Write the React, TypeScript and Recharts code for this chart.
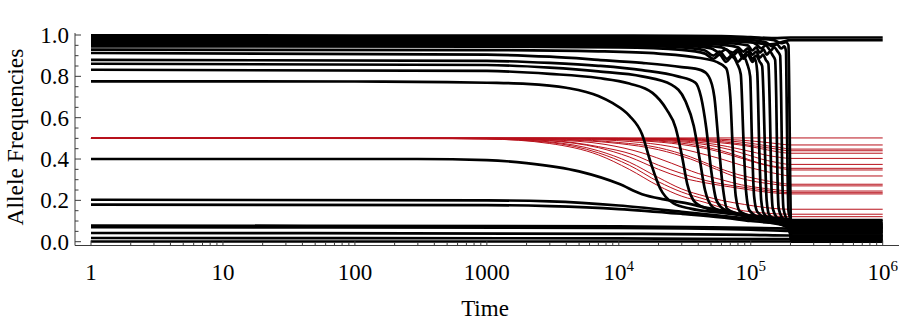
import React from 'react';
import { LineChart, Line, XAxis, YAxis, Label } from 'recharts';

type P = [number, number];

// ---- axis ticks ----
const xMajorTicks = [1, 10, 100, 1000, 1e4, 1e5, 1e6];
const xTickLabels = ['1', '10', '100', '1000', '10|4', '10|5', '10|6'];
const xMinorMult = [2, 3, 4, 5, 6, 7, 8, 9];
const yMajorTicks = [0, 0.2, 0.4, 0.6, 0.8, 1.0];
const yTickLabels = ['0.0', '0.2', '0.4', '0.6', '0.8', '1.0'];
const yMinorTicks = [0.05, 0.1, 0.15, 0.25, 0.3, 0.35, 0.45, 0.5, 0.55, 0.65, 0.7, 0.75, 0.85, 0.9, 0.95];

// ---- red series (start at 0.5) ----
const red01: P[] = [[1, .502], [1e3, .502], [1e4, .502], [1e5, .502], [2e5, .502], [1e6, .502]];
const red02: P[] = [[1, .5], [1e4, .5], [4e4, .498], [8e4, .492], [1.2e5, .483], [1.6e5, .474], [2e5, .468], [1e6, .468]];
const red03: P[] = [[1, .5], [1e4, .5], [3e4, .497], [6e4, .49], [9e4, .48], [1.3e5, .465], [1.7e5, .455], [2e5, .448], [1e6, .448]];
const red04: P[] = [[1, .5], [8e3, .5], [2.5e4, .496], [5e4, .488], [8e4, .475], [1.1e5, .462], [1.5e5, .45], [2e5, .44], [1e6, .44]];
const red05: P[] = [[1, .5], [5e3, .5], [2e4, .496], [4e4, .488], [6e4, .478], [9e4, .465], [1.2e5, .45], [1.5e5, .438], [2e5, .428], [1e6, .428]];
const red06: P[] = [[1, .5], [5e3, .5], [1.5e4, .496], [3e4, .488], [5.5e4, .47], [8e4, .45], [1.1e5, .43], [1.4e5, .415], [1.7e5, .407], [2e5, .403], [1e6, .403]];
const red07: P[] = [[1, .5], [3e3, .5], [1e4, .496], [2.5e4, .487], [4.5e4, .47], [7e4, .445], [9.5e4, .42], [1.2e5, .4], [1.5e5, .386], [2e5, .374], [1e6, .374]];
const red08: P[] = [[1, .5], [3e3, .5], [1e4, .495], [2e4, .487], [4e4, .465], [6e4, .44], [8.5e4, .41], [1.1e5, .385], [1.4e5, .368], [1.8e5, .358], [2e5, .355], [1e6, .355]];
const red09: P[] = [[1, .5], [2e3, .5], [6e3, .497], [1.5e4, .488], [3e4, .47], [5e4, .445], [7e4, .42], [1e5, .39], [1.3e5, .37], [1.7e5, .355], [2e5, .347], [1e6, .347]];
const red10: P[] = [[1, .5], [2e3, .5], [5e3, .496], [1.2e4, .485], [2.5e4, .46], [4e4, .43], [6e4, .4], [8.5e4, .37], [1.2e5, .345], [1.6e5, .328], [2e5, .318], [1e6, .318]];
const red11: P[] = [[1, .5], [1e3, .5], [4e3, .495], [1e4, .48], [2e4, .455], [3.5e4, .41], [5.5e4, .36], [8e4, .325], [1.2e5, .3], [1.6e5, .285], [2e5, .278], [1e6, .278]];
const red12: P[] = [[1, .5], [1e3, .5], [3e3, .495], [1e4, .475], [2e4, .445], [3.5e4, .4], [5.5e4, .35], [8e4, .31], [1.1e5, .29], [1.5e5, .278], [2e5, .27], [1e6, .27]];
const red13: P[] = [[1, .5], [1e3, .5], [3e3, .493], [8e3, .47], [1.5e4, .43], [2.5e4, .38], [4e4, .33], [6e4, .3], [8.5e4, .275], [1.2e5, .26], [1.6e5, .25], [2e5, .245], [1e6, .245]];
const red14: P[] = [[1, .5], [1e3, .499], [3e3, .49], [7e3, .46], [1.3e4, .42], [2e4, .37], [3e4, .33], [5e4, .29], [7.5e4, .27], [1.1e5, .255], [1.5e5, .243], [2e5, .237], [1e6, .237]];
const red15: P[] = [[1, .5], [1e3, .499], [3e3, .488], [7e3, .455], [1.2e4, .41], [2e4, .35], [3e4, .31], [5e4, .28], [7e4, .265], [1e5, .25], [1.4e5, .238], [2e5, .231], [1e6, .231]];
const red16: P[] = [[1, .5], [1e3, .498], [3e3, .483], [7e3, .44], [1.2e4, .385], [2e4, .31], [3e4, .255], [4.5e4, .22], [6e4, .2], [9e4, .18], [1.3e5, .165], [2e5, .157], [1e6, .157]];
const red17: P[] = [[1, .5], [300, .5], [1e3, .497], [3e3, .48], [7e3, .43], [1.2e4, .37], [2e4, .29], [3e4, .24], [4.5e4, .205], [6e4, .18], [8e4, .155], [1.2e5, .14], [2e5, .133], [1e6, .133]];
const red18: P[] = [[1, .5], [300, .5], [1e3, .497], [3e3, .475], [7e3, .42], [1.2e4, .35], [2e4, .27], [3e4, .22], [4.5e4, .19], [6e4, .165], [8e4, .14], [1.2e5, .128], [2e5, .121], [1e6, .121]];

// ---- black series ----
const blk0776: P[] = [[1, .776], [100, .775], [500, .772], [1e3, .769], [2e3, .764], [4e3, .745], [7e3, .705], [9e3, .67], [1.2e4, .61], [1.5e4, .52], [1.75e4, .38], [2.05e4, .26], [2.6e4, .185], [3.5e4, .16], [6e4, .14], [1.2e5, .12], [1.95e5, .108], [2.02e5, .105], [1e6, .105]];
const blk0832: P[] = [[1, .832], [1e3, .826], [3e3, .812], [7e3, .792], [1.2e4, .765], [1.8e4, .72], [2.3e4, .64], [2.7e4, .55], [3e4, .42], [3.3e4, .28], [3.8e4, .19], [5e4, .155], [1e5, .125], [1.95e5, .1], [2.02e5, .097], [1e6, .097]];
const blk0861: P[] = [[1, .861], [1e3, .855], [3e3, .842], [7e3, .824], [1.5e4, .8], [2.5e4, .76], [3.2e4, .68], [3.7e4, .56], [4.1e4, .4], [4.5e4, .25], [5.2e4, .165], [7e4, .14], [1.3e5, .11], [1.95e5, .092], [2.02e5, .088], [1e6, .088]];
const blk0880: P[] = [[1, .88], [1e3, .875], [3e3, .865], [7e3, .851], [1.5e4, .83], [2.8e4, .8], [3.8e4, .77], [4.2e4, .7], [4.6e4, .55], [5e4, .35], [5.5e4, .2], [6.5e4, .15], [1e5, .12], [1.95e5, .087], [2.02e5, .08], [1e6, .08]];
const blk0913: P[] = [[1, .913], [1e3, .905], [3e3, .895], [7e3, .88], [1.5e4, .865], [3e4, .845], [4.2e4, .83], [4.8e4, .8], [5.3e4, .7], [5.7e4, .48], [6.1e4, .28], [6.6e4, .16], [8e4, .135], [1.4e5, .1], [1.95e5, .082], [2.02e5, .072], [1e6, .072]];
const blk0929: P[] = [[1, .929], [1e3, .927], [7e3, .921], [2e4, .91], [4e4, .89], [5.5e4, .87], [6.5e4, .84], [7e4, .7], [7.3e4, .45], [7.7e4, .22], [8.3e4, .145], [1.2e5, .11], [1.95e5, .077], [2.02e5, .068], [1e6, .068]];
const blk0945: P[] = [[1, .945], [1e3, .944], [1e4, .94], [3e4, .928], [4.5e4, .91], [5.2e4, .885], [5.8e4, .905], [6.5e4, .87], [7.2e4, .895], [7.9e4, .86], [8.4e4, .81], [8.8e4, .5], [9.2e4, .25], [9.8e4, .15], [1.3e5, .1], [1.95e5, .072], [2.02e5, .055], [1e6, .055]];
const blk0952: P[] = [[1, .952], [1e4, .948], [3e4, .94], [4.5e4, .925], [5.2e4, .9], [5.8e4, .92], [6.6e4, .885], [7.3e4, .905], [8e4, .87], [8.8e4, .895], [9.4e4, .86], [9.9e4, .8], [1.02e5, .5], [1.06e5, .22], [1.12e5, .145], [1.5e5, .095], [1.95e5, .068], [2.02e5, .045], [1e6, .045]];
const blk0958: P[] = [[1, .958], [1e4, .955], [3e4, .948], [5e4, .935], [5.8e4, .915], [6.5e4, .93], [7.3e4, .9], [8e4, .92], [8.8e4, .885], [9.5e4, .905], [1.03e5, .87], [1.08e5, .885], [1.12e5, .82], [1.16e5, .45], [1.2e5, .2], [1.26e5, .135], [1.6e5, .09], [1.95e5, .063], [2.02e5, .04], [1e6, .04]];
const blk0964: P[] = [[1, .964], [1e4, .961], [3e4, .955], [6e4, .94], [7.3e4, .915], [8e4, .93], [8.8e4, .9], [9.5e4, .92], [1.03e5, .885], [1.1e5, .9], [1.17e5, .87], [1.22e5, .85], [1.25e5, .7], [1.28e5, .45], [1.32e5, .2], [1.38e5, .13], [1.95e5, .06], [2.02e5, .03], [1e6, .03]];
const blk0970: P[] = [[1, .97], [1e4, .967], [3e4, .962], [6e4, .953], [8e4, .94], [8.8e4, .92], [9.5e4, .935], [1.03e5, .905], [1.1e5, .92], [1.17e5, .89], [1.24e5, .905], [1.3e5, .88], [1.36e5, .86], [1.4e5, .6], [1.43e5, .3], [1.47e5, .16], [1.6e5, .11], [1.95e5, .065], [2.02e5, .025], [1e6, .025]];
const blk0976: P[] = [[1, .976], [1e4, .974], [3e4, .97], [6e4, .963], [9.5e4, .95], [1.03e5, .925], [1.1e5, .94], [1.17e5, .915], [1.25e5, .93], [1.32e5, .905], [1.4e5, .92], [1.47e5, .9], [1.53e5, .88], [1.56e5, .7], [1.59e5, .35], [1.63e5, .16], [1.75e5, .11], [1.95e5, .075], [2.02e5, .018], [1e6, .018]];
const blk0982: P[] = [[1, .982], [1e4, .98], [3e4, .977], [6e4, .972], [1e5, .965], [1.1e5, .955], [1.2e5, .935], [1.3e5, .95], [1.42e5, .925], [1.5e5, .94], [1.6e5, .92], [1.67e5, .9], [1.7e5, .7], [1.73e5, .35], [1.77e5, .16], [1.87e5, .11], [1.96e5, .09], [2.02e5, .008], [1e6, .008]];
const blk0988: P[] = [[1, .988], [1e4, .986], [3e4, .984], [6e4, .98], [1e5, .975], [1.3e5, .965], [1.45e5, .945], [1.58e5, .955], [1.7e5, .935], [1.8e5, .945], [1.85e5, .92], [1.87e5, .7], [1.9e5, .35], [1.93e5, .15], [1.98e5, .11], [2.02e5, .004], [1e6, .004]];
const blk0994: P[] = [[1, .994], [1e4, .993], [6e4, .99], [1e5, .985], [1.5e5, .975], [1.7e5, .96], [1.85e5, .965], [1.93e5, .95], [1.96e5, .7], [1.99e5, .3], [2.01e5, .1], [2.03e5, .0], [1e6, .0]];
const blkTopA: P[] = [[1, .998], [1e4, .997], [6e4, .995], [1e5, .99], [1.5e5, .985], [2e5, .988], [1e6, .988]];
const blkTopB: P[] = [[1, .979], [1e4, .978], [6e4, .972], [1e5, .965], [1.4e5, .955], [1.7e5, .965], [2e5, .975], [1e6, .975]];
const blk0400: P[] = [[1, .4], [300, .4], [1e3, .395], [2e3, .38], [5e3, .34], [1e4, .28], [1.5e4, .23], [2.2e4, .205], [3e4, .19], [5e4, .16], [1e5, .125], [2e5, .1], [2.02e5, .085], [1e6, .085]];
const blk0203: P[] = [[1, .203], [1e3, .2], [3e3, .195], [1e4, .175], [3e4, .145], [6e4, .125], [1e5, .11], [2e5, .09], [2.02e5, .075], [1e6, .075]];
const blk0179: P[] = [[1, .179], [1e3, .177], [3e3, .172], [1e4, .158], [3e4, .135], [6e4, .118], [1e5, .1], [2e5, .08], [2.02e5, .065], [1e6, .065]];
const blk0078: P[] = [[1, .078], [1e4, .074], [5e4, .07], [2e5, .063], [1e6, .06]];
const blk0070: P[] = [[1, .07], [1e4, .067], [1e5, .058], [2e5, .052], [1e6, .05]];
const blk0042: P[] = [[1, .042], [1e4, .038], [1e5, .033], [2e5, .03], [1e6, .03]];
const blk0018: P[] = [[1, .018], [1e4, .016], [2e5, .012], [1e6, .012]];
const blk0001: P[] = [[1, .001], [1e4, .001], [2e5, .001], [1e6, .001]];

const redSeries = [red01, red02, red03, red04, red05, red06, red07, red08, red09, red10, red11, red12, red13, red14, red15, red16, red17, red18];
const blackSeries = [blk0776, blk0832, blk0861, blk0880, blk0913, blk0929, blk0945, blk0952, blk0958, blk0964, blk0970, blk0976, blk0982, blk0988, blk0994, blkTopA, blkTopB, blk0400, blk0203, blk0179, blk0078, blk0070, blk0042, blk0018, blk0001];

const toPts = (a: P[]) => a.map(([t, v]) => ({ t, v }));

const xMinorTicks: number[] = [];
xMajorTicks.slice(0, 6).forEach((d) => xMinorMult.forEach((m) => xMinorTicks.push(d * m)));
const xAllTicks = [...xMajorTicks, ...xMinorTicks];
const yAllTicks = [...yMajorTicks, ...yMinorTicks];

const FONT = '"Liberation Serif", "Times New Roman", serif';
const FRAME = '#3a3a3a';
const FS = 23;
const X_DOMAIN: [number, number] = [0.7564, 1.329e6];
const Y_DOMAIN: [number, number] = [-0.0184, 1.0097];

const isMajorX = (v: number) => xMajorTicks.some((m) => Math.abs(m - v) / m < 1e-6);
const isMajorY = (v: number) => yMajorTicks.some((m) => Math.abs(m - v) < 1e-6);

const XTickBottom = (props: any) => {
  const { x, y, payload } = props;
  const v = payload.value;
  const major = isMajorX(v);
  const len = major ? 5 : 3;
  let label: React.ReactNode = null;
  if (major) {
    const idx = xMajorTicks.findIndex((m) => Math.abs(m - v) / m < 1e-6);
    const s = xTickLabels[idx];
    if (s.includes('|')) {
      const [b, e] = s.split('|');
      label = (
        <text x={x} y={y + 34} textAnchor="middle" fontFamily={FONT} fontSize={FS} fill="#000">
          <tspan>{b}</tspan>
          <tspan dy={-9} fontSize={15}>{e}</tspan>
        </text>
      );
    } else {
      label = (
        <text x={x} y={y + 34} textAnchor="middle" fontFamily={FONT} fontSize={FS} fill="#000">{s}</text>
      );
    }
  }
  return (
    <g>
      <line x1={x} x2={x} y1={y} y2={y - len} stroke={FRAME} strokeWidth={1} />
      {label}
    </g>
  );
};

const XTickTop = (props: any) => {
  const { x, y, payload } = props;
  const len = isMajorX(payload.value) ? 5 : 3;
  return <line x1={x} x2={x} y1={y} y2={y + len} stroke={FRAME} strokeWidth={1} />;
};

const YTickLeft = (props: any) => {
  const { x, y, payload } = props;
  const v = payload.value;
  const major = isMajorY(v);
  const len = major ? 6 : 3.5;
  const idx = yMajorTicks.findIndex((m) => Math.abs(m - v) < 1e-6);
  return (
    <g>
      <line x1={x} x2={x + len} y1={y} y2={y} stroke={FRAME} strokeWidth={1} />
      {major && (
        <text x={x - 6} y={y + 8} textAnchor="end" fontFamily={FONT} fontSize={FS} fill="#000">{yTickLabels[idx]}</text>
      )}
    </g>
  );
};

const YTickRight = (props: any) => {
  const { x, y, payload } = props;
  const len = isMajorY(payload.value) ? 6 : 3.5;
  return <line x1={x} x2={x - len} y1={y} y2={y} stroke={FRAME} strokeWidth={1} />;
};

export default function App() {
  return (
    <div style={{ position: 'absolute', left: 0, top: 0, width: 900, height: 322, background: '#fff' }}>
      <LineChart width={900} height={322} margin={{ top: 33, right: 1, bottom: 0, left: 0 }}>
        <XAxis
          xAxisId="b"
          dataKey="t"
          type="number"
          scale="log"
          domain={X_DOMAIN}
          allowDataOverflow
          ticks={xAllTicks}
          interval={0}
          tickSize={0}
          tickMargin={0}
          tick={<XTickBottom />}
          tickLine={false}
          axisLine={{ stroke: FRAME, strokeWidth: 1 }}
          height={76.5}
          orientation="bottom"
        >
          <Label
            content={() => (
              <text x={485} y={316} textAnchor="middle" fontFamily={FONT} fontSize={FS} fill="#000">Time</text>
            )}
          />
        </XAxis>
        <XAxis
          xAxisId="top"
          dataKey="t"
          type="number"
          scale="log"
          domain={X_DOMAIN}
          allowDataOverflow
          ticks={xAllTicks}
          interval={0}
          tickSize={0}
          tickMargin={0}
          tick={<XTickTop />}
          tickLine={false}
          axisLine={{ stroke: FRAME, strokeWidth: 1 }}
          height={0}
          orientation="top"
        />
        <YAxis
          yAxisId="l"
          type="number"
          domain={Y_DOMAIN}
          allowDataOverflow
          ticks={yAllTicks}
          interval={0}
          tickSize={0}
          tickMargin={0}
          tick={<YTickLeft />}
          tickLine={false}
          axisLine={{ stroke: FRAME, strokeWidth: 1 }}
          width={75}
          orientation="left"
        >
          <Label
            content={() => (
              <text
                x={15}
                y={137}
                transform="rotate(-90 15 137)"
                textAnchor="middle"
                dominantBaseline="central"
                fontFamily={FONT}
                fontSize={23.5}
                fill="#000"
              >
                Allele Frequencies
              </text>
            )}
          />
        </YAxis>
        <YAxis
          yAxisId="r"
          type="number"
          domain={Y_DOMAIN}
          allowDataOverflow
          ticks={yAllTicks}
          interval={0}
          tickSize={0}
          tickMargin={0}
          tick={<YTickRight />}
          tickLine={false}
          axisLine={{ stroke: FRAME, strokeWidth: 1 }}
          width={0}
          orientation="right"
        />
        {redSeries.map((s, i) => (
          <Line
            key={'r' + i}
            xAxisId="b"
            yAxisId="l"
            data={toPts(s)}
            dataKey="v"
            type="monotone"
            stroke="#b8111b"
            strokeWidth={1}
            dot={false}
            activeDot={false}
            isAnimationActive={false}
          />
        ))}
        {blackSeries.map((s, i) => (
          <Line
            key={'k' + i}
            xAxisId="b"
            yAxisId="l"
            data={toPts(s)}
            dataKey="v"
            type="monotone"
            stroke="#000"
            strokeWidth={2.7}
            dot={false}
            activeDot={false}
            isAnimationActive={false}
          />
        ))}
      </LineChart>
    </div>
  );
}
